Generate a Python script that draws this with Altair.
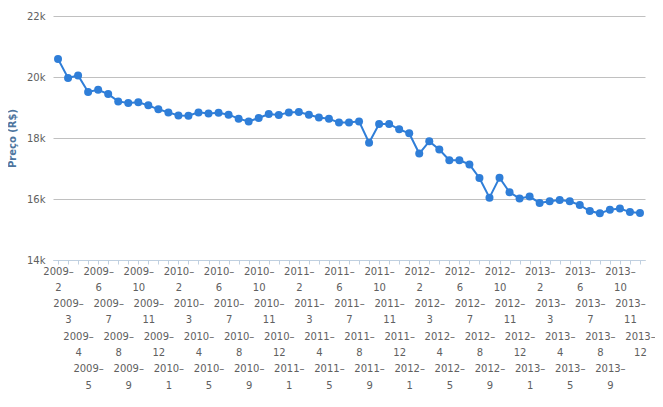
import altair as alt
import pandas as pd

months = [
    "2009-2", "2009-3", "2009-4", "2009-5", "2009-6", "2009-7", "2009-8", "2009-9",
    "2009-10", "2009-11", "2009-12",
    "2010-1", "2010-2", "2010-3", "2010-4", "2010-5", "2010-6", "2010-7", "2010-8",
    "2010-9", "2010-10", "2010-11", "2010-12",
    "2011-1", "2011-2", "2011-3", "2011-4", "2011-5", "2011-6", "2011-7", "2011-8",
    "2011-9", "2011-10", "2011-11", "2011-12",
    "2012-1", "2012-2", "2012-3", "2012-4", "2012-5", "2012-6", "2012-7", "2012-8",
    "2012-9", "2012-10", "2012-11", "2012-12",
    "2013-1", "2013-2", "2013-3", "2013-4", "2013-5", "2013-6", "2013-7", "2013-8",
    "2013-9", "2013-10", "2013-11", "2013-12",
]

precos = [
    20590, 19970, 20050, 19510, 19580, 19440, 19200, 19150,
    19170, 19070, 18940,
    18840, 18740, 18730, 18840, 18800, 18830, 18765, 18635,
    18545, 18655, 18785, 18755,
    18840, 18850, 18765, 18675, 18630, 18505, 18505, 18545,
    17845, 18460, 18460, 18285,
    18155, 17490, 17890, 17620, 17270, 17270, 17135, 16690,
    16045, 16700, 16220, 16020,
    16080, 15870, 15925, 15965, 15925, 15800, 15605, 15530,
    15650, 15690, 15570, 15540,
]

y_ticks = [14000, 16000, 18000, 20000, 22000]

df = pd.DataFrame({"mes": months, "preco": precos})

FONT = "DejaVu Sans"
COLOR = "#2f7ed8"

B = "'\u2800'"
A = "split(datum.value, '-')[0] + '\u2013'"
M = "split(datum.value, '-')[1]"
R = "((toNumber(split(datum.value, '-')[1]) + 2) % 4)"


def lines(k):
    return "[" + ", ".join([B] * (2 * k) + [A, M]) + "]"


label_expr = (
    f"{R} == 0 ? {lines(0)} : "
    f"{R} == 1 ? {lines(1)} : "
    f"{R} == 2 ? {lines(2)} : "
    f"{lines(3)}"
)

x = alt.X(
    "mes:N",
    sort=None,
    scale=alt.Scale(paddingInner=0, paddingOuter=0),
    axis=alt.Axis(
        title=None,
        labelExpr=label_expr,
        labelAngle=0,
        labelOverlap=False,
        labelBaseline="top",
        labelAlign="center",
        labelLineHeight=16.3,
        labelFont=FONT,
        labelFontSize=10,
        labelColor="#606060",
        labelPadding=2,
        bandPosition=0,
        tickSize=4,
        tickColor="#C0D0E0",
        domainColor="#C0D0E0",
        grid=False,
    ),
)

y = alt.Y(
    "preco:Q",
    scale=alt.Scale(domain=[14000, 22000], nice=False, zero=False),
    axis=alt.Axis(
        title="Preço (R$)",
        titleFont=FONT,
        titleFontSize=10,
        titleFontWeight="bold",
        titleColor="#4d759e",
        titlePadding=9,
        values=y_ticks,
        labelExpr="(datum.value / 1000) + 'k'",
        labelFont=FONT,
        labelFontSize=10,
        labelColor="#606060",
        labelPadding=8,
        domain=False,
        ticks=False,
        gridColor="#c0c0c0",
        gridWidth=1,
    ),
)

base = alt.Chart(df).encode(x=x, y=y)
line = base.mark_line(color=COLOR, strokeWidth=2)
pts = base.mark_circle(color=COLOR, size=64, opacity=1)

chart = (
    alt.layer(line, pts)
    .properties(
        width=592,
        height=244,
        autosize=alt.AutoSizeParams(type="none"),
        padding={"left": 45, "top": 8, "right": 10, "bottom": 139},
    )
    .configure_view(stroke=None)
)

chart.save("out.html", embed_options={"renderer": "svg", "actions": False})
